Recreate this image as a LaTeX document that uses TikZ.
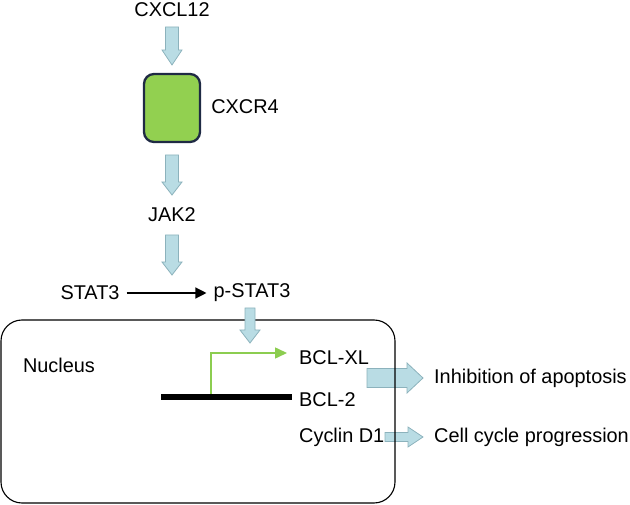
\documentclass[tikz,border=0pt]{standalone}
\usepackage{fontspec}
\setmainfont{Liberation Sans}
\usetikzlibrary{arrows.meta}
\definecolor{arrowfill}{RGB}{185,220,228}
\definecolor{arrowdraw}{RGB}{140,178,188}
\definecolor{boxgreen}{RGB}{146,208,80}
\definecolor{boxnavy}{RGB}{31,42,68}
\definecolor{linegreen}{RGB}{140,205,80}
% vertical block arrow: x, ytop, ytip, shaft half, head half, head length
\newcommand{\vblockarrow}[6]{%
  \draw[blk] (#1-#4,#2) -- (#1+#4,#2) -- (#1+#4,#3-#6) -- (#1+#5,#3-#6) -- (#1,#3)
    -- (#1-#5,#3-#6) -- (#1-#4,#3-#6) -- cycle;}
% horizontal block arrow: y, xleft, xtip, shaft half, head half, head length
\newcommand{\hblockarrow}[6]{%
  \draw[blk] (#2,#1-#4) -- (#2,#1+#4) -- (#3-#6,#1+#4) -- (#3-#6,#1+#5) -- (#3,#1)
    -- (#3-#6,#1-#5) -- (#3-#6,#1-#4) -- cycle;}
\begin{document}
\begin{tikzpicture}[x=1pt,y=-1pt,
  lbl/.style={font=\fontsize{19.9}{23}\selectfont, inner sep=0pt},
  blk/.style={fill=arrowfill, draw=arrowdraw, line width=0.8pt, line join=miter}]
\useasboundingbox (0,0) rectangle (630,505);

% labels
\node[lbl] (cxcl12) at (172,10) {CXCL12};
\node[draw=boxnavy, line width=2.3pt, fill=boxgreen, rounded corners=10pt,
      minimum width=56pt, minimum height=68pt, inner sep=0pt] (cxcr4) at (172,108) {};
\node[lbl] (cxcr4lbl) at (245,107) {CXCR4};
\node[lbl] (jak2) at (172,215) {JAK2};
\node[lbl] (stat3) at (90,293) {STAT3};
\node[lbl] (pstat3) at (252,293) {p-STAT3};
\node[lbl] (nucleuslbl) at (59,365) {Nucleus};
\node[lbl, anchor=west] (bclxl) at (299,358) {BCL-XL};
\node[lbl, anchor=west] (bcl2) at (299,400) {BCL-2};
\node[lbl, anchor=west] (cyclin) at (299,437) {Cyclin D1};
\node[lbl, anchor=west] (inhib) at (434,378) {Inhibition of apoptosis};
\node[lbl, anchor=west] (cellcycle) at (434,437) {Cell cycle progression};

% vertical block arrows
\vblockarrow{172}{27}{65}{6.5}{10}{15}
\vblockarrow{172}{155}{195}{6.5}{10}{13}
\vblockarrow{172}{235}{275}{6.5}{10}{13}

% horizontal block arrows
\hblockarrow{378}{367}{423}{9.5}{15}{16}
\hblockarrow{437}{385}{423}{4.5}{10}{15}

% STAT3 -> p-STAT3
\draw[line width=1.2pt, -{Triangle[length=11pt,width=11pt]}, shorten <=7pt, shorten >=7pt]
  (stat3.east) -- (pstat3.west);

% nucleus
\node[draw, line width=1.1pt, rounded corners=21pt, minimum width=394pt,
      minimum height=183pt, inner sep=0pt] (nucleus) at (198,411.5) {};

% p-STAT3 into nucleus
\vblockarrow{250}{308}{343}{5}{10}{13}

% gene bar and green promoter arrow
\coordinate (barL) at (161,397);
\coordinate (barR) at (292,397);
\draw[line width=6pt] (barL) -- (barR);
\coordinate (prom) at (211,394);
\draw[linegreen, line width=1.5pt, -{Triangle[length=12pt,width=11pt]}]
  (prom) |- (287,353);
\end{tikzpicture}
\end{document}
